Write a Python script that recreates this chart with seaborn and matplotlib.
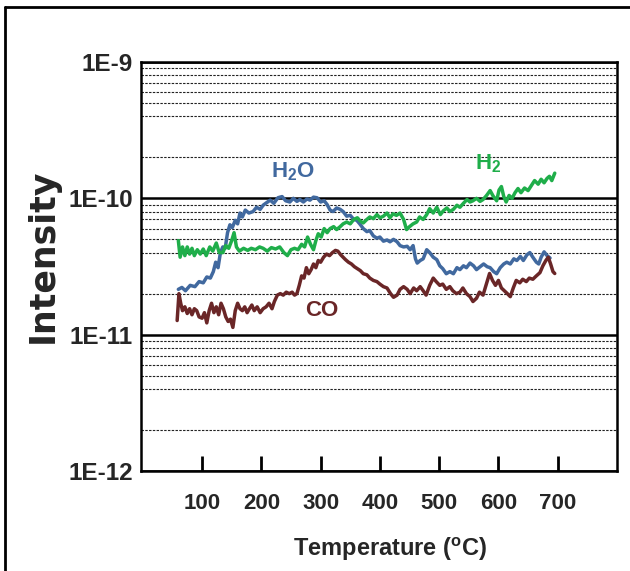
import numpy as np
import pandas as pd
import matplotlib
matplotlib.use("Agg")
import matplotlib.pyplot as plt
from matplotlib.ticker import LogLocator, FuncFormatter, NullFormatter
from matplotlib.lines import Line2D
import seaborn as sns

# ---- data (temperature in °C, intensity in units of 1e-11) ----
h2o_temp = [60, 66, 72, 80, 88, 95, 102, 108, 114, 119, 123, 127, 131, 135, 139, 143, 147,
            151, 156, 160, 164, 168, 173, 179, 186, 192, 198, 203, 209, 215, 221, 228, 235,
            241, 248, 254, 260, 265, 271, 277, 282, 288, 294, 300, 306, 311, 316, 321, 327,
            333, 338, 344, 350, 356, 361, 366, 372, 378, 383, 389, 395, 400, 406, 412, 417,
            423, 429, 434, 440, 446, 451, 456, 460, 463, 468, 473, 479, 484, 490, 496, 501,
            506, 512, 518, 524, 530, 535, 541, 546, 552, 558, 563, 569, 575, 581, 586, 592,
            597, 603, 609, 614, 620, 626, 631, 637, 642, 648, 653, 658, 664, 668, 672, 677,
            682, 687]
h2o_val = [2.15, 2.22, 2.1, 2.3, 2.25, 2.45, 2.4, 2.65, 2.6, 2.9, 3.4, 3.1, 4.0, 4.4, 4.3,
           5.6, 6.4, 6.1, 6.9, 6.5, 7.8, 7.3, 8.2, 7.8, 8.0, 8.6, 8.3, 8.9, 9.3, 9.7, 9.2,
           10.1, 10.3, 9.6, 9.4, 10.0, 9.5, 9.8, 9.4, 9.9, 9.7, 10.2, 10.1, 9.4, 9.6, 9.0,
           8.2, 8.0, 8.5, 8.3, 8.0, 7.4, 7.5, 7.0, 6.9, 6.5, 6.0, 5.7, 5.8, 5.3, 5.1, 5.2,
           4.85, 4.95, 4.8, 5.0, 4.8, 4.5, 4.4, 4.45, 4.2, 4.5, 3.6, 3.35, 3.5, 3.6, 4.2,
           4.0, 3.7, 3.55, 3.2, 3.05, 2.8, 2.9, 2.8, 3.1, 3.0, 3.2, 3.1, 3.35, 3.2, 3.0,
           3.15, 3.3, 3.15, 3.1, 2.9, 2.8, 3.1, 3.3, 3.4, 3.3, 3.6, 3.5, 3.75, 3.5, 3.85,
           4.0, 3.7, 3.4, 3.3, 3.7, 4.05, 3.8, 3.65]

h2_temp = [60, 63, 67, 71, 75, 79, 83, 87, 92, 97, 102, 107, 113, 118, 124, 129, 135, 140,
           145, 150, 154, 158, 163, 170, 177, 183, 190, 197, 203, 210, 217, 224, 231, 238,
           244, 250, 256, 262, 268, 273, 278, 283, 288, 292, 296, 301, 306, 311, 316, 322,
           327, 333, 338, 344, 350, 356, 362, 367, 372, 378, 383, 389, 395, 400, 406, 412,
           417, 422, 428, 434, 440, 445, 450, 456, 462, 467, 473, 479, 484, 490, 496, 502,
           507, 513, 518, 524, 530, 535, 541, 547, 552, 557, 563, 569, 574, 580, 586, 591,
           597, 601, 605, 609, 613, 618, 623, 628, 633, 638, 644, 650, 656, 661, 667, 672,
           677, 682, 686, 690, 695]
h2_val = [4.9, 3.7, 4.4, 3.8, 4.4, 3.9, 4.3, 3.8, 4.2, 3.9, 4.25, 3.8, 4.4, 4.1, 4.7, 4.0,
          4.0, 4.5, 4.3, 4.9, 5.6, 4.4, 4.1, 4.3, 4.15, 4.3, 4.2, 4.4, 4.3, 4.1, 4.35, 4.25,
          4.4, 4.0, 3.8, 4.2, 4.3, 4.2, 4.6, 4.4, 5.2, 4.6, 4.2, 4.9, 5.5, 5.2, 6.0, 5.6,
          6.0, 6.2, 5.9, 6.2, 6.5, 6.7, 6.5, 7.0, 7.2, 6.8, 6.6, 7.0, 7.3, 7.1, 7.6, 7.2,
          7.4, 7.8, 7.2, 7.7, 7.5, 7.8, 7.0, 5.9, 6.2, 6.5, 6.7, 7.3, 7.0, 7.6, 8.4, 7.8,
          8.6, 7.6, 8.1, 8.5, 8.0, 8.3, 8.9, 8.6, 9.2, 9.8, 9.4, 9.6, 10.0, 9.5, 9.8, 10.5,
          11.4, 10.4, 9.6, 11.5, 12.2, 10.3, 9.4, 10.5, 10.0, 11.0, 11.8, 11.0, 11.9, 11.4,
          12.5, 13.5, 12.7, 13.8, 13.0, 14.0, 14.5, 13.5, 15.3]

co_temp = [58, 61, 64, 67, 71, 75, 79, 83, 87, 91, 95, 100, 104, 108, 112, 116, 120, 124,
           128, 132, 136, 140, 144, 148, 152, 156, 160, 164, 168, 172, 176, 180, 184, 188,
           193, 198, 203, 208, 213, 218, 222, 227, 232, 237, 242, 247, 252, 256, 260, 264,
           268, 272, 276, 280, 284, 288, 292, 296, 300, 305, 310, 315, 320, 325, 329, 334,
           338, 342, 347, 352, 357, 362, 367, 372, 378, 383, 389, 395, 400, 406, 412, 418,
           423, 429, 434, 440, 446, 451, 457, 462, 468, 473, 478, 484, 490, 495, 501, 506,
           512, 518, 523, 529, 535, 540, 546, 552, 557, 563, 568, 574, 579, 585, 590, 595,
           600, 605, 610, 615, 620, 625, 630, 636, 641, 647, 652, 658, 664, 670, 675, 680,
           684, 688, 692, 695]
co_val = [1.27, 2.0, 1.7, 1.5, 1.6, 1.43, 1.55, 1.4, 1.55, 1.5, 1.35, 1.32, 1.45, 1.22,
          1.5, 1.7, 1.45, 1.6, 1.4, 1.7, 1.55, 1.35, 1.25, 1.3, 1.13, 1.5, 1.7, 1.55, 1.5,
          1.6, 1.45, 1.55, 1.65, 1.5, 1.6, 1.45, 1.55, 1.6, 1.7, 1.55, 1.75, 1.95, 2.0,
          1.95, 2.05, 2.0, 2.05, 1.95, 2.0, 2.3, 2.7, 2.6, 3.1, 2.8, 3.0, 3.3, 3.1, 3.5,
          3.4, 3.7, 3.9, 3.8, 4.0, 4.15, 4.1, 3.85, 3.7, 3.55, 3.4, 3.3, 3.15, 3.05, 2.95,
          2.8, 2.75, 2.6, 2.5, 2.45, 2.35, 2.25, 2.2, 2.0, 1.88, 1.95, 2.15, 2.25, 2.15,
          2.0, 2.2, 2.1, 2.25, 2.1, 1.95, 2.3, 2.6, 2.45, 2.3, 2.35, 2.15, 2.25, 2.1, 2.0,
          2.05, 2.2, 2.0, 1.9, 1.75, 1.85, 2.05, 1.95, 2.3, 2.81, 2.5, 2.3, 2.5, 2.2, 2.1,
          2.0, 1.9, 2.2, 2.5, 2.4, 2.55, 2.45, 2.6, 2.55, 2.7, 2.85, 3.2, 3.5, 3.7, 3.3,
          2.9, 2.81]

scale = 1e-11
x_ticks = [100, 200, 300, 400, 500, 600, 700]
series_labels = {"H2O": "H$_2$O", "H2": "H$_2$", "CO": "CO"}
colors = {"H2O": "#41699f", "H2": "#1fae4a", "CO": "#6a2627"}

df = pd.concat([
    pd.DataFrame({"T": h2o_temp, "I": np.array(h2o_val) * scale, "gas": "H2O"}),
    pd.DataFrame({"T": h2_temp, "I": np.array(h2_val) * scale, "gas": "H2"}),
    pd.DataFrame({"T": co_temp, "I": np.array(co_val) * scale, "gas": "CO"}),
])

sns.set_style("white")
plt.rcParams["font.family"] = ["Liberation Sans", "DejaVu Sans"]
plt.rcParams["font.weight"] = "bold"
plt.rcParams["mathtext.fontset"] = "custom"
plt.rcParams["mathtext.rm"] = "Liberation Sans:bold"
plt.rcParams["mathtext.it"] = "Liberation Sans:bold"
plt.rcParams["mathtext.bf"] = "Liberation Sans:bold"

fig = plt.figure(figsize=(6.3, 5.71), dpi=100)
ax = fig.add_axes([141 / 630, 1 - 471 / 571, (617 - 141) / 630, (471 - 62) / 571])

sns.lineplot(data=df, x="T", y="I", hue="gas", palette=colors, ax=ax,
             linewidth=2.5, legend=False, sort=False, estimator=None)

ax.set_yscale("log")
ax.set_ylim(1e-12, 1e-9)
ax.set_xlim(-3, 800)

# grid
ax.yaxis.set_major_locator(LogLocator(base=10, numticks=10))
ax.yaxis.set_minor_locator(LogLocator(base=10, subs=[2, 4, 5, 6, 7, 8, 9], numticks=20))
ax.yaxis.set_minor_formatter(NullFormatter())
ax.yaxis.set_major_formatter(FuncFormatter(lambda v, _: f"1E{int(round(np.log10(v)))}"))
ax.grid(False)
ax.grid(True, axis="y", which="major", color="black", linewidth=1.8, linestyle="-")
ax.grid(True, axis="y", which="minor", color="#222222", linewidth=0.8,
        linestyle=(0, (2.2, 1.2)))
ax.set_axisbelow(True)

ax.set_xticks(x_ticks)
ax.tick_params(axis="x", which="major", direction="in", length=11, width=2.0,
               color="black", bottom=True, top=False, pad=16, labelsize=16)
ax.tick_params(axis="y", which="both", length=0, pad=6, labelsize=17.5)
for lab in ax.get_xticklabels() + ax.get_yticklabels():
    lab.set_fontweight("bold")

for s in ax.spines.values():
    s.set_color("black")
    s.set_linewidth(1.8)

ax.set_xlabel("Temperature ($^{\\mathregular{o}}$C)", fontsize=17, fontweight="bold")
ax.xaxis.set_label_coords((390 - 141) / 476, (471 - 536) / 409)
ax.set_ylabel("")
fig.text(43 / 630, 1 - 256 / 571, "Intensity", rotation=90, ha="center", va="center",
         fontsize=25, fontweight="heavy", family=["DejaVu Sans"])

# series labels
ax.text(253, 1.58e-10, series_labels["H2O"], color=colors["H2O"], fontsize=16,
        fontweight="bold", ha="center", va="center")
ax.text(582, 1.81e-10, series_labels["H2"], color=colors["H2"], fontsize=16,
        fontweight="bold", ha="center", va="center")
ax.text(302, 1.5e-11, series_labels["CO"], color=colors["CO"], fontsize=16,
        fontweight="bold", ha="center", va="center")

# outer frame (cropped at right/bottom like the reference)
ytop = 1 - 7 / 571
xl = 5 / 630
fig.add_artist(Line2D([xl, 1.0], [ytop, ytop], transform=fig.transFigure,
                      color="black", linewidth=2.0))
fig.add_artist(Line2D([xl, xl], [0.0, ytop], transform=fig.transFigure,
                      color="black", linewidth=2.0))

fig.savefig("out.png", dpi=100, facecolor="white")
